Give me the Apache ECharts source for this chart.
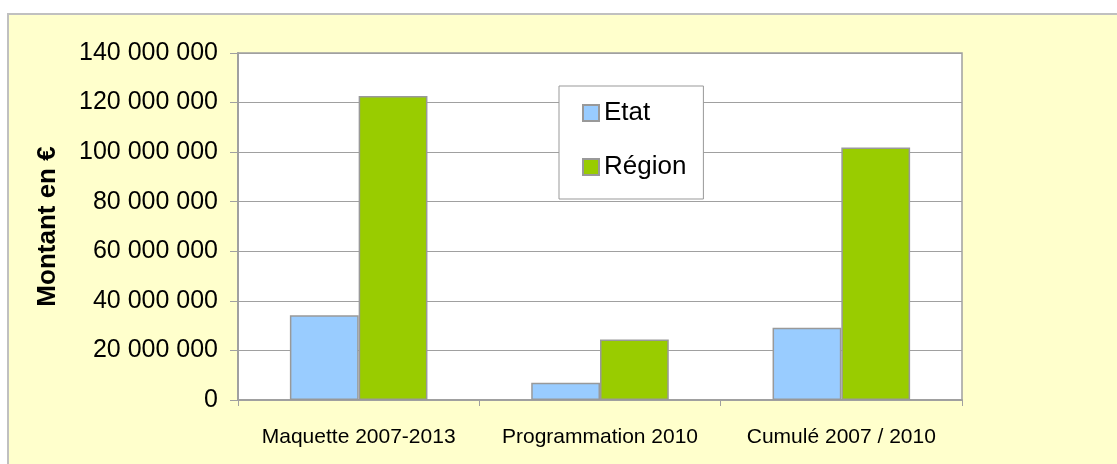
<!DOCTYPE html>
<html>
<head>
<meta charset="utf-8">
<script src="https://cdn.jsdelivr.net/npm/echarts@6/dist/echarts.min.js"></script>
<style>
  html, body { margin: 0; padding: 0; background: #ffffff; }
  .frame {
    position: absolute;
    left: 7px;
    top: 13px;
    width: 1108px;
    height: 449px;
    border-top: 2px solid #c0c0c0;
    border-left: 2px solid #c0c0c0;
    background: #ffffcc;
  }
  #chart { width: 1108px; height: 449px; }
</style>
</head>
<body>
<div class="frame"><div id="chart"></div></div>
<script>
// categories and values
const categories = ['Maquette 2007-2013', 'Programmation 2010', 'Cumulé 2007 / 2010'];
const etatValues = [34200000, 7000000, 29200000];
const regionValues = [122700000, 24400000, 101900000];
const seriesNames = ['Etat', 'Région'];
const yMax = 140000000;
const yStep = 20000000;

const fontFamily = '"Liberation Sans", Arial, sans-serif';

// 140000000 -> "140 000 000"
const formatMontant = (v) => String(v).replace(/\B(?=(\d{3})+(?!\d))/g, ' ');

const chart = echarts.init(document.getElementById('chart'));

const barStyle = (color) => ({
  color: color,
  borderColor: '#999999',
  borderWidth: 1.5
});

const option = {
  animation: false,
  backgroundColor: 'transparent',
  grid: {
    left: 229,
    top: 38,
    width: 724,
    height: 347,
    show: true,
    backgroundColor: '#ffffff',
    borderColor: '#a0a0a0',
    borderWidth: 1.5
  },
  legend: {
    orient: 'vertical',
    left: 550,
    top: 71,
    padding: [14, 17, 19, 23],
    itemGap: 28,
    itemWidth: 16,
    itemHeight: 16,
    icon: 'rect',
    backgroundColor: '#ffffff',
    borderColor: '#999999',
    borderWidth: 1,
    textStyle: { fontFamily: fontFamily, fontSize: 26, color: '#000000' },
    data: seriesNames
  },
  xAxis: {
    type: 'category',
    data: categories,
    axisLine: { show: true, lineStyle: { color: '#a0a0a0', width: 2 } },
    axisTick: { show: true, alignWithLabel: false, length: 6, lineStyle: { color: '#a0a0a0' } },
    axisLabel: {
      fontFamily: fontFamily,
      fontSize: 21,
      color: '#000000',
      margin: 27,
      interval: 0,
      hideOverlap: false
    },
    splitLine: { show: false }
  },
  yAxis: {
    type: 'value',
    min: 0,
    max: yMax,
    interval: yStep,
    name: 'Montant en €',
    nameLocation: 'middle',
    nameGap: 177,
    nameTextStyle: { fontFamily: fontFamily, fontSize: 26, fontWeight: 'bold', color: '#000000' },
    axisLine: { show: true, lineStyle: { color: '#a0a0a0', width: 2 } },
    axisTick: { show: true, length: 8, lineStyle: { color: '#a0a0a0' } },
    axisLabel: {
      fontFamily: fontFamily,
      fontSize: 25,
      color: '#000000',
      margin: 20,
      formatter: formatMontant
    },
    splitLine: { show: true, lineStyle: { color: '#a0a0a0', width: 1 } }
  },
  series: [
    {
      name: seriesNames[0],
      type: 'bar',
      data: etatValues,
      barGap: '0%',
      barCategoryGap: '43%',
      itemStyle: barStyle('#99ccff')
    },
    {
      name: seriesNames[1],
      type: 'bar',
      data: regionValues,
      barGap: '0%',
      barCategoryGap: '43%',
      itemStyle: barStyle('#99cc00')
    }
  ]
};

chart.setOption(option);
</script>
</body>
</html>
